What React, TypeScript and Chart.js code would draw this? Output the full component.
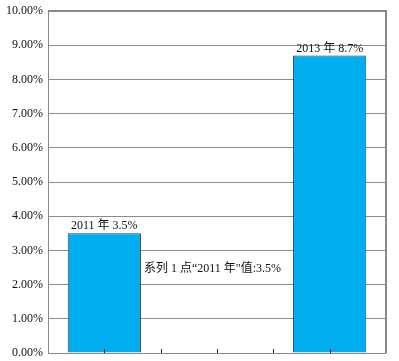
import React, { useEffect, useRef } from "react";
import { Chart, registerables } from "chart.js";

Chart.register(...registerables);

const categories = ["2011年", "2012年", "2013年"];
const values: (number | null)[] = [3.5, null, 8.7];
const yTicks = [0, 1, 2, 3, 4, 5, 6, 7, 8, 9, 10];
const noteText = "系列 1 点“2011 年\"值:3.5%";
const noteValue = 2.45;

const FONT = "'Liberation Serif', 'Noto Sans CJK SC', serif";

const overlay = {
  id: "overlay",
  afterDatasetsDraw(chart: any) {
    const ctx = chart.ctx;
    const meta = chart.getDatasetMeta(0);
    const xs = chart.scales.x;
    const ys = chart.scales.y;
    const area = chart.chartArea;
    ctx.save();
    // bottom axis line
    ctx.strokeStyle = "#888";
    ctx.lineWidth = 1;
    ctx.beginPath();
    ctx.moveTo(area.left, Math.round(area.bottom) + 0.5);
    ctx.lineTo(area.right, Math.round(area.bottom) + 0.5);
    ctx.stroke();
    // inward tick marks at category centers and boundaries
    ctx.strokeStyle = "#222";
    const n = categories.length;
    const step = (area.right - area.left) / n;
    for (let i = 0; i < n; i++) {
      const c = xs.getPixelForValue(i);
      const marks = [c];
      if (i < n - 1) marks.push(c + step / 2);
      for (const m of marks) {
        const px = Math.round(m) + 0.5;
        ctx.beginPath();
        ctx.moveTo(px, area.bottom);
        ctx.lineTo(px, area.bottom - 4);
        ctx.stroke();
      }
    }
    // value labels
    ctx.fillStyle = "#111";
    ctx.font = `12px ${FONT}`;
    ctx.textAlign = "center";
    ctx.textBaseline = "bottom";
    meta.data.forEach((el: any, i: number) => {
      const v = values[i];
      if (v == null) return;
      const yr = categories[i].replace("年", " 年 ");
      ctx.fillText(`${yr}${v}%`, el.x, el.y - 1);
    });
    // note text
    const first = meta.data[0] as any;
    ctx.textAlign = "left";
    ctx.textBaseline = "middle";
    ctx.fillText(noteText, first.x + first.width / 2 + 3, ys.getPixelForValue(noteValue));
    ctx.restore();
  },
};

export default function App() {
  const ref = useRef<HTMLCanvasElement>(null);
  useEffect(() => {
    const chart = new Chart(ref.current!, {
      type: "bar",
      data: {
        labels: categories,
        datasets: [
          {
            data: values as any,
            backgroundColor: "#00ADEE",
            borderColor: "#2a3f55",
            borderWidth: 1,
            barPercentage: 0.65,
            categoryPercentage: 1,
          },
        ],
      },
      options: {
        responsive: false,
        animation: false,
        layout: { padding: { top: 11, bottom: 8, right: 13, left: 0 } },
        plugins: { legend: { display: false }, tooltip: { enabled: false } },
        scales: {
          x: {
            display: false,
          },
          y: {
            min: 0,
            max: 10,
            afterBuildTicks: (s: any) => {
              s.ticks = yTicks.map((v) => ({ value: v }));
            },
            afterFit: (s: any) => {
              s.width = 48;
              s.paddingTop = 0;
              s.paddingBottom = 0;
            },
            ticks: {
              color: "#111",
              font: { family: FONT, size: 12 },
              padding: 5,
              callback: (v: any) => Number(v).toFixed(2) + "%",
            },
            grid: { color: "#8c8c8c", lineWidth: 1, drawTicks: false },
            border: { display: true, color: "#888", width: 1 },
          },
        },
      },
      plugins: [
        overlay,
        {
          id: "frame",
          afterDraw(chart: any) {
            const { ctx, chartArea: a } = chart;
            ctx.save();
            ctx.strokeStyle = "#888";
            ctx.lineWidth = 2;
            ctx.beginPath();
            ctx.moveTo(a.left, a.top);
            ctx.lineTo(a.right, a.top);
            ctx.lineTo(a.right, a.bottom);
            ctx.stroke();
            ctx.restore();
          },
        },
      ],
    });
    return () => chart.destroy();
  }, []);
  return (
    <div style={{ position: "absolute", left: 0, top: 0, width: 399, height: 361, background: "#fff" }}>
      <canvas ref={ref} width={399} height={361} />
    </div>
  );
}
